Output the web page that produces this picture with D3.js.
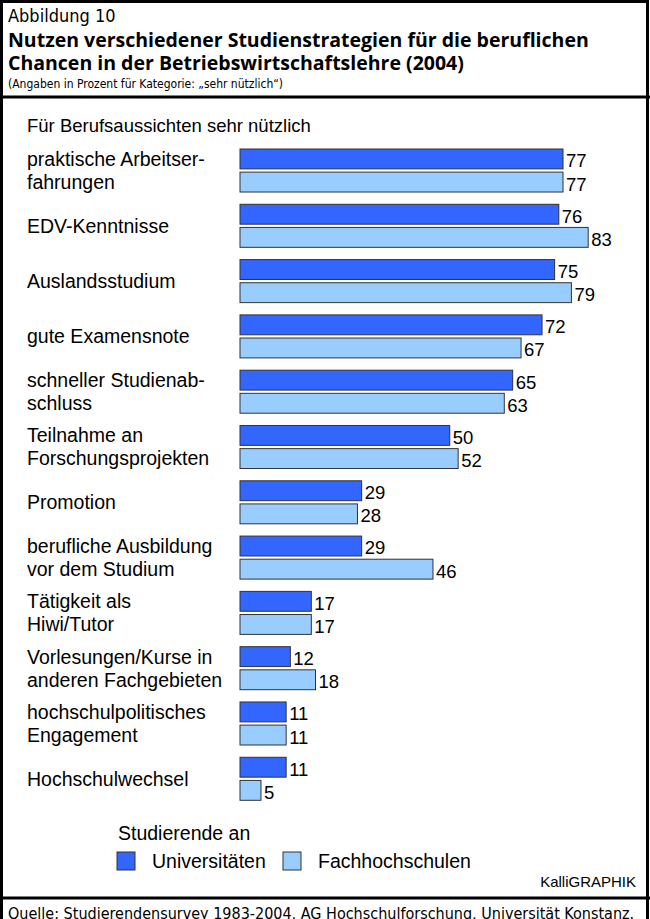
<!DOCTYPE html>
<html>
<head>
<meta charset="utf-8">
<script src="https://cdn.jsdelivr.net/npm/d3@7"></script>
<style>
  body { margin: 0; background: #fff; }
  svg text { fill: #000; }
  .lbl { font-family: "Liberation Sans", Arial, sans-serif; font-size: 19.5px; }
  .hdr { font-family: "DejaVu Sans Condensed", sans-serif; }
  .ttl { font-family: "Open Sans", sans-serif; font-weight: bold; font-size: 19.5px; }
</style>
</head>
<body>
<svg id="chart"></svg>
<script>
// categories (label lines), values in percent
var categories = [
  ["praktische Arbeitser-", "fahrungen"],
  ["EDV-Kenntnisse"],
  ["Auslandsstudium"],
  ["gute Examensnote"],
  ["schneller Studienab-", "schluss"],
  ["Teilnahme an", "Forschungsprojekten"],
  ["Promotion"],
  ["berufliche Ausbildung", "vor dem Studium"],
  ["Tätigkeit als", "Hiwi/Tutor"],
  ["Vorlesungen/Kurse in", "anderen Fachgebieten"],
  ["hochschulpolitisches", "Engagement"],
  ["Hochschulwechsel"]
];
var universitaeten = [77, 76, 75, 72, 65, 50, 29, 29, 17, 12, 11, 11];
var fachhochschulen = [77, 83, 79, 67, 63, 52, 28, 46, 17, 18, 11, 5];
var seriesNames = ["Universitäten", "Fachhochschulen"];

var config = { w: 650, h: 919 };
var colors = { "Universitäten": "#3366ff", "Fachhochschulen": "#99ccff" };

var svg = d3.select("#chart")
  .attr("width", config.w)
  .attr("height", config.h);

// frame
svg.append("rect")
  .attr("x", 1.5).attr("y", 1.5)
  .attr("width", 646).attr("height", 930)
  .attr("fill", "none").attr("stroke", "#000").attr("stroke-width", 3);
svg.append("line").attr("x1", 0).attr("x2", 650).attr("y1", 97).attr("y2", 97)
  .attr("stroke", "#000").attr("stroke-width", 3);
svg.append("line").attr("x1", 0).attr("x2", 650).attr("y1", 898).attr("y2", 898)
  .attr("stroke", "#000").attr("stroke-width", 3);

// header
svg.append("text").attr("class", "hdr").attr("x", 8).attr("y", 22)
  .style("font-size", "18px").text("Abbildung 10");
svg.append("text").attr("class", "ttl").attr("x", 8).attr("y", 47)
  .text("Nutzen verschiedener Studienstrategien für die beruflichen");
svg.append("text").attr("class", "ttl").attr("x", 8).attr("y", 70)
  .text("Chancen in der Betriebswirtschaftslehre (2004)");
svg.append("text").attr("class", "hdr").attr("x", 8).attr("y", 88)
  .style("font-size", "12px").text("(Angaben in Prozent für Kategorie: „sehr nützlich“)");

svg.append("text").attr("class", "lbl").attr("x", 27).attr("y", 132)
  .style("font-size", "18.5px")
  .text("Für Berufsaussichten sehr nützlich");

// scales
var x = d3.scaleLinear().domain([0, 100]).range([240, 659.5]);
var y = d3.scaleBand()
  .domain(d3.range(categories.length))
  .range([149, 800.3])
  .paddingInner(0.222)
  .paddingOuter(0);
var ySub = d3.scaleBand()
  .domain(seriesNames)
  .range([0, y.bandwidth()])
  .paddingInner(0.14);

var rows = categories.map(function(c, i) {
  return { label: c, values: [
    { s: seriesNames[0], v: universitaeten[i] },
    { s: seriesNames[1], v: fachhochschulen[i] }
  ] };
});

var g = svg.append("g").attr("id", "plot");

var groups = g.selectAll("g.group")
  .data(rows)
  .enter().append("g")
  .attr("class", "group")
  .attr("transform", function(d, i) { return "translate(0," + y(i) + ")"; });

// category labels, centered on the group
groups.each(function(d) {
  var n = d.label.length;
  var mid = y.bandwidth() / 2;
  d3.select(this).selectAll("text.cat")
    .data(d.label)
    .enter().append("text")
    .attr("class", "lbl cat")
    .attr("x", 27)
    .attr("y", function(t, j) { return mid + (j - (n - 1) / 2) * 23; })
    .attr("dy", "0.35em")
    .text(function(t) { return t; });
});

groups.selectAll("rect")
  .data(function(d) { return d.values; })
  .enter().append("rect")
  .attr("x", x(0))
  .attr("y", function(d) { return ySub(d.s); })
  .attr("width", function(d) { return x(d.v) - x(0); })
  .attr("height", ySub.bandwidth())
  .attr("fill", function(d) { return colors[d.s]; })
  .attr("stroke", "#333")
  .attr("stroke-width", 1);

groups.selectAll("text.val")
  .data(function(d) { return d.values; })
  .enter().append("text")
  .attr("class", "lbl val")
  .style("font-size", "18.5px")
  .attr("x", function(d) { return x(d.v) + 3; })
  .attr("y", function(d) { return ySub(d.s) + ySub.bandwidth() / 2 + 2; })
  .attr("dy", "0.35em")
  .text(function(d) { return d.v; });

// legend
var leg = svg.append("g").attr("id", "legend");
leg.append("text").attr("class", "lbl").attr("x", 118).attr("y", 840).text("Studierende an");
var legPos = [117, 283];
var items = leg.selectAll("g.item")
  .data(seriesNames)
  .enter().append("g")
  .attr("class", "item")
  .attr("transform", function(d, i) { return "translate(" + legPos[i] + ",852)"; });
items.append("rect")
  .attr("width", 18).attr("height", 18)
  .attr("fill", function(d) { return colors[d]; })
  .attr("stroke", "#333").attr("stroke-width", 1);
items.append("text").attr("class", "lbl")
  .attr("x", 35).attr("y", 9).attr("dy", "0.35em")
  .text(function(d) { return d; });

svg.append("text").attr("class", "lbl").attr("x", 636).attr("y", 887)
  .attr("text-anchor", "end").style("font-size", "15px").text("KalliGRAPHIK");

// source line (cut off at the bottom edge, as in the original)
svg.append("text").attr("class", "hdr").attr("x", 8).attr("y", 919)
  .style("font-size", "16px")
  .text("Quelle: Studierendensurvey 1983-2004, AG Hochschulforschung, Universität Konstanz.");
</script>
</body>
</html>
